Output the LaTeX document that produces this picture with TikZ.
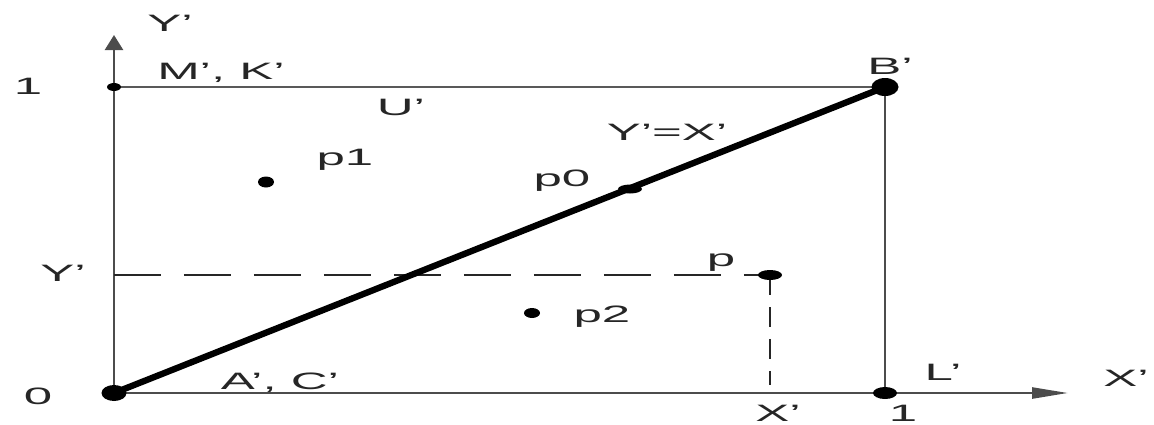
\documentclass[tikz,border=0pt]{standalone}
\usepackage{fontspec}
\setmainfont{Liberation Sans}
\newfontfamily\lblfont[FakeStretch=2.15]{Liberation Sans}
\usetikzlibrary{arrows.meta,shapes.geometric}

\begin{document}
\begin{tikzpicture}[
  x=0.02cm, y=-0.02cm,
  lbl/.style={font=\lblfont\fontsize{13.5}{15}\selectfont, text=black!85, inner sep=1pt},
  dot/.style={ellipse, fill=black, inner sep=0pt},
  axis/.style={draw=black!70, line width=1.4pt},
  frame/.style={draw=black!65, line width=0.9pt},
  diag/.style={draw=black, line width=3.6pt},
  hdash/.style={draw=black!85, line width=0.9pt, dash pattern=on 0.94cm off 0.46cm},
  vdash/.style={draw=black!85, line width=1.1pt, dash pattern=on 0.4cm off 0.24cm}
]
\useasboundingbox (0,0) rectangle (1154,424);
% points
\coordinate (O)  at (114,393);
\coordinate (M)  at (114,87);
\coordinate (B)  at (885,87);
\coordinate (L)  at (885,393);
\coordinate (Yt) at (114,35);
\coordinate (Xt) at (1068,393);
\coordinate (Yp) at (114,275);
\coordinate (P)  at (770,275);
\coordinate (Xp) at (770,385);
\coordinate (P0) at (630,189);
\coordinate (P1) at (266,182);
\coordinate (P2) at (532,313);

% axes and frame
\draw[axis, -{Triangle[length=0.3cm, width=0.36cm]}] (O) -- (Yt);
\draw[axis, -{Triangle[length=0.72cm, width=0.22cm]}] (O) -- (Xt);
\draw[frame] (M) -- (B);
\draw[axis] (B) -- (L);
\draw[hdash] (Yp) -- (P);
\draw[vdash] (P) -- (Xp);
\draw[diag] (O) -- (B);

% dots
\node[dot, minimum width=0.5cm, minimum height=0.32cm] (nO) at (O) {};
\node[dot, minimum width=0.54cm, minimum height=0.36cm] (nB) at (B) {};
\node[dot, minimum width=0.28cm, minimum height=0.16cm] (nM) at (M) {};
\node[dot, minimum width=0.48cm, minimum height=0.24cm] (nL) at (L) {};
\node[dot, minimum width=0.48cm, minimum height=0.2cm] (nP) at (P) {};
\node[dot, minimum width=0.48cm, minimum height=0.18cm] (nP0) at (P0) {};
\node[dot, minimum width=0.32cm, minimum height=0.22cm] (nP1) at (P1) {};
\node[dot, minimum width=0.32cm, minimum height=0.2cm] (nP2) at (P2) {};

% labels
\node[lbl] (tYt) at (170,23) {Y’};
\node[lbl] (tMK) at (221,73) {M’, K’};
\node[lbl] (t1l) at (28,86) {1};
\node[lbl] (tYl) at (63,273) {Y’};
\node[lbl] (t0)  at (38,396) {0};
\node[lbl] (tAC) at (280,383) {A’, C’};
\node[lbl] (tU)  at (401,107) {U’};
\node[lbl] (tp1) at (345,160) {p1};
\node[lbl] (tp0) at (562,181) {p0};
\node[lbl] (tYX) at (667,132) {Y’=X’};
\node[lbl] (tp)  at (721,263) {p};
\node[lbl] (tp2) at (602,317) {p2};
\node[lbl] (tB)  at (890,66) {B’};
\node[lbl] (tL)  at (943,372) {L’};
\node[lbl] (tXr) at (1126,378) {X’};
\node[lbl] (tXb) at (778,413) {X’};
\node[lbl] (t1b) at (903,413) {1};
\end{tikzpicture}
\end{document}
